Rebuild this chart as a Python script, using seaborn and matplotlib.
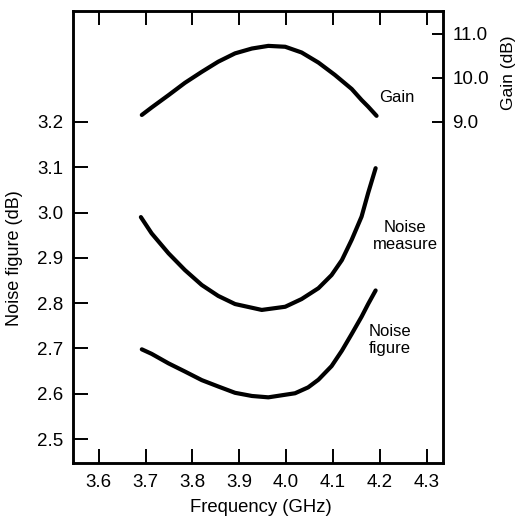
import matplotlib
matplotlib.use("Agg")
import matplotlib.pyplot as plt
import seaborn as sns
import pandas as pd

# ---- data ----
freq_gain = [3.692, 3.713, 3.749, 3.784, 3.820, 3.855, 3.891, 3.927, 3.962,
             3.998, 4.033, 4.069, 4.104, 4.140, 4.161, 4.175, 4.193]
gain_db = [9.16, 9.33, 9.61, 9.89, 10.14, 10.37, 10.56, 10.67, 10.73,
           10.71, 10.58, 10.35, 10.07, 9.75, 9.50, 9.35, 9.14]

freq_nm = [3.690, 3.713, 3.749, 3.784, 3.820, 3.855, 3.891, 3.948, 3.998,
           4.033, 4.069, 4.097, 4.119, 4.140, 4.161, 4.175, 4.191]
noise_measure = [2.990, 2.954, 2.910, 2.873, 2.840, 2.816, 2.798, 2.785, 2.792,
                 2.809, 2.833, 2.862, 2.895, 2.940, 2.991, 3.043, 3.098]

freq_nf = [3.692, 3.713, 3.749, 3.784, 3.820, 3.855, 3.891, 3.927, 3.962,
           4.019, 4.047, 4.069, 4.097, 4.119, 4.140, 4.161, 4.175, 4.191]
noise_figure = [2.698, 2.688, 2.667, 2.649, 2.630, 2.616, 2.602, 2.595, 2.592,
                2.601, 2.614, 2.631, 2.661, 2.695, 2.732, 2.770, 2.798, 2.828]

x_ticks = [3.6, 3.7, 3.8, 3.9, 4.0, 4.1, 4.2, 4.3]
nf_ticks = [2.5, 2.6, 2.7, 2.8, 2.9, 3.0, 3.1, 3.2]
gain_ticks = [9.0, 10.0, 11.0]

sns.set_style("ticks")
plt.rcParams["font.family"] = ["Liberation Sans", "DejaVu Sans"]

W, H = 521, 518
fig = plt.figure(figsize=(W / 100, H / 100), dpi=100)
ax = fig.add_axes([73.3 / W, 1 - 462.7 / H, (442.7 - 73.3) / W, (462.7 - 11) / H])
ax2 = ax.twinx()

df_nm = pd.DataFrame({"f": freq_nm, "v": noise_measure})
df_nf = pd.DataFrame({"f": freq_nf, "v": noise_figure})
df_g = pd.DataFrame({"f": freq_gain, "v": gain_db})

lw = 3.0
for d, a in ((df_nm, ax), (df_nf, ax), (df_g, ax2)):
    sns.lineplot(data=d, x="f", y="v", ax=a, color="black", lw=lw,
                 sort=True, solid_capstyle="round", solid_joinstyle="round")

ax.set_xlim(3.6 - (98.7 - 73.3) / 468.6, 4.3 + (442.7 - 426.7) / 468.6)
ax.set_ylim(2.5 - (462.7 - 439) / 453, 3.2 + (122 - 11) / 453)
ax2.set_ylim(9.0 - (462.7 - 122) / 44, 11.0 + (34 - 11) / 44)

ax.set_xticks(x_ticks)
ax.set_xticklabels([f"{t:.1f}" for t in x_ticks])
ax.set_yticks(nf_ticks)
ax.set_yticklabels([f"{t:.1f}" for t in nf_ticks])
ax2.set_yticks(gain_ticks)
ax2.set_yticklabels([f"{t:.1f}" for t in gain_ticks])

ax.tick_params(axis="x", direction="in", length=10, width=1.4, top=True,
               labelsize=13.5, pad=8, colors="black")
ax.tick_params(axis="y", direction="in", length=11, width=1.4, right=False,
               labelsize=13.5, pad=7, colors="black")
ax2.tick_params(axis="y", direction="in", length=8, width=1.4, labelsize=13.5,
                pad=7, colors="black")

for a in (ax, ax2):
    for s in a.spines.values():
        s.set_visible(True)
        s.set_linewidth(1.8)
        s.set_color("black")

ax.set_xlabel("")
ax.set_ylabel("")
ax2.set_ylabel("")


def ftext(x, y, s, **kw):
    fig.text(x / W, 1 - y / H, s, ha="center", va="center", color="black", **kw)


ftext(261, 508, "Frequency (GHz)", fontsize=13.3)
ftext(15, 258, "Noise figure (dB)", fontsize=13, rotation=90)
ftext(509, 73, "Gain (dB)", fontsize=12.5, rotation=90)

ftext(397, 97, "Gain", fontsize=12)
ftext(405, 236, "Noise\nmeasure", fontsize=12, linespacing=1.15)
ftext(390, 340, "Noise\nfigure", fontsize=12, linespacing=1.15)

fig.savefig("out.png", dpi=100)
